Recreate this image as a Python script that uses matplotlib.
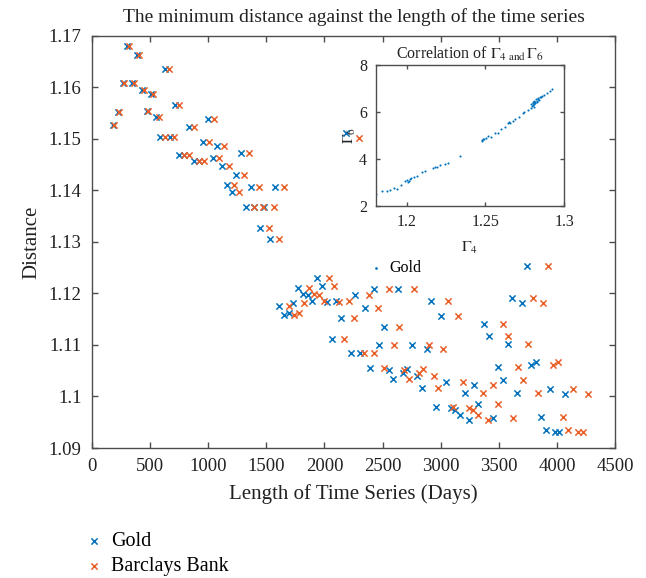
import numpy as np
import matplotlib
matplotlib.use('Agg')
import matplotlib.pyplot as plt

plt.rcParams['font.family'] = 'Liberation Serif'
plt.rcParams['mathtext.fontset'] = 'stix'

BLUE = '#0072BD'
ORANGE = '#EA5F26'
SPINE = '#4d4d4d'
TEXT = '#222222'

# minimum distance vs. series length (days)
gold_days = [304, 390, 631, 264, 347, 428, 505, 714, 224, 471, 551, 183, 998, 832,
             588, 669, 958, 1078, 1285, 751, 792, 878, 921, 1039, 1121, 1242, 1162,
             1205, 1368, 1575, 1325, 1394, 1480, 1448, 1532, 1612, 1655, 1695, 1732,
             1775, 1818, 1856, 1896, 1939, 1979, 2020, 2102, 2143, 2267, 2349, 2429,
             2636, 2920, 3003, 2513, 2063, 2470, 2756, 2880, 2226, 2306, 2390, 2556,
             2713, 2676, 2799, 2593, 2840, 3043, 3290, 3207, 2963, 3086, 3126, 3166,
             3246, 3321, 3740, 3614, 3697, 3370, 3413, 3577, 3493, 3780, 3820, 3534,
             3657, 3941, 4067, 3450, 3861, 3904, 3984, 4021, 2186]
gold_dist = [1.1681, 1.1663, 1.1636, 1.1608, 1.1609, 1.1595, 1.1586, 1.1566, 1.1552,
             1.1554, 1.1542, 1.1526, 1.1539, 1.1522, 1.1504, 1.1504, 1.1493, 1.1486,
             1.1473, 1.1469, 1.1469, 1.1456, 1.1456, 1.1462, 1.1447, 1.1430, 1.1411,
             1.1396, 1.1407, 1.1407, 1.1368, 1.1368, 1.1368, 1.1327, 1.1305, 1.1176,
             1.1158, 1.1162, 1.1181, 1.1210, 1.1199, 1.1196, 1.1186, 1.1230, 1.1214,
             1.1184, 1.1186, 1.1152, 1.1196, 1.1172, 1.1209, 1.1209, 1.1186, 1.1157,
             1.1135, 1.1112, 1.1100, 1.1100, 1.1093, 1.1084, 1.1084, 1.1056, 1.1052,
             1.1053, 1.1046, 1.1039, 1.1033, 1.1017, 1.1028, 1.1022, 1.1006, 1.0980,
             1.0978, 1.0973, 1.0965, 1.0955, 1.0986, 1.1254, 1.1192, 1.1181, 1.1141,
             1.1118, 1.1102, 1.1057, 1.1061, 1.1066, 1.1031, 1.1007, 1.1015, 1.1005,
             1.0958, 1.0960, 1.0935, 1.0932, 1.0932, 1.1511]

barclays_days = [321, 404, 663, 275, 361, 445, 528, 749, 232, 485, 574, 192, 1050, 878,
                 625, 708, 1007, 1136, 1351, 792, 832, 921, 964, 1093, 1179, 1305, 1222,
                 1265, 1437, 1652, 1394, 1474, 1566, 1523, 1609, 1695, 1738, 1779, 1822,
                 1865, 1910, 1953, 1996, 2037, 2080, 2123, 2209, 2252, 2381, 2463, 2553,
                 2768, 3066, 3152, 2639, 2166, 2596, 2897, 3023, 2338, 2424, 2510, 2682,
                 2851, 2811, 2940, 2725, 2980, 3195, 3453, 3367, 3106, 3241, 3281, 3321,
                 3410, 3496, 3926, 3797, 3883, 3539, 3582, 3754, 3668, 3969, 4010, 3711,
                 3840, 4141, 4268, 3625, 4055, 4098, 4184, 4222, 2297]
barclays_dist = [1.1681, 1.1663, 1.1636, 1.1608, 1.1609, 1.1595, 1.1586, 1.1566, 1.1552,
                 1.1554, 1.1542, 1.1526, 1.1539, 1.1522, 1.1504, 1.1504, 1.1493, 1.1486,
                 1.1473, 1.1469, 1.1469, 1.1456, 1.1456, 1.1462, 1.1447, 1.1430, 1.1411,
                 1.1396, 1.1407, 1.1407, 1.1368, 1.1368, 1.1368, 1.1327, 1.1305, 1.1176,
                 1.1158, 1.1162, 1.1181, 1.1210, 1.1199, 1.1196, 1.1186, 1.1230, 1.1214,
                 1.1184, 1.1186, 1.1152, 1.1196, 1.1172, 1.1209, 1.1209, 1.1186, 1.1157,
                 1.1135, 1.1112, 1.1100, 1.1100, 1.1093, 1.1084, 1.1084, 1.1056, 1.1052,
                 1.1053, 1.1046, 1.1039, 1.1033, 1.1017, 1.1028, 1.1022, 1.1006, 1.0980,
                 1.0978, 1.0973, 1.0965, 1.0955, 1.0986, 1.1254, 1.1192, 1.1181, 1.1141,
                 1.1118, 1.1102, 1.1057, 1.1061, 1.1066, 1.1031, 1.1007, 1.1015, 1.1005,
                 1.0958, 1.0960, 1.0935, 1.0932, 1.0932, 1.1502]

# Gamma_4 vs Gamma_6 for gold
gamma4 = [1.1800, 1.1844, 1.1872, 1.1893, 1.1919, 1.1936, 1.1962, 1.1987, 1.2004,
          1.2017, 1.2023, 1.2042, 1.2064, 1.2096, 1.2117, 1.2164, 1.2181, 1.2192,
          1.2213, 1.2245, 1.2260, 1.2337, 1.2476, 1.2491, 1.2502, 1.2517, 1.2538,
          1.2560, 1.2581, 1.2598, 1.2624, 1.2645, 1.2658, 1.2673, 1.2688, 1.2715,
          1.2737, 1.2747, 1.2769, 1.2790, 1.2808, 1.2816, 1.2827, 1.2837, 1.2854,
          1.2872, 1.2891, 1.2908, 1.2923, 1.2795, 1.2800, 1.2805, 1.2812, 1.2818,
          1.2822, 1.2830, 1.2835, 1.2842, 1.2848, 1.2860, 1.2800, 1.2790, 1.2810,
          1.2000, 1.2010, 1.2480, 1.2485, 1.2650]
gamma6 = [2.49, 2.61, 2.64, 2.67, 2.75, 2.72, 2.87, 3.05, 3.01, 3.15, 3.20, 3.24,
          3.28, 3.42, 3.48, 3.59, 3.65, 3.63, 3.72, 3.79, 3.82, 4.13, 4.77, 4.83,
          4.87, 4.97, 4.92, 5.09, 5.08, 5.26, 5.36, 5.51, 5.53, 5.60, 5.68, 5.79,
          5.93, 5.97, 6.07, 6.17, 6.33, 6.41, 6.47, 6.53, 6.61, 6.71, 6.81, 6.88,
          6.95, 6.25, 6.36, 6.30, 6.45, 6.35, 6.52, 6.40, 6.58, 6.50, 6.62, 6.65,
          6.42, 6.32, 6.22, 3.10, 3.05, 4.80, 4.85, 5.55]

x_ticks = [0, 500, 1000, 1500, 2000, 2500, 3000, 3500, 4000, 4500]
y_ticks = [1.09, 1.10, 1.11, 1.12, 1.13, 1.14, 1.15, 1.16, 1.17]
y_tick_labels = ['1.09', '1.1', '1.11', '1.12', '1.13', '1.14', '1.15', '1.16', '1.17']


def style_box(axis):
    for s in axis.spines.values():
        s.set_color(SPINE)
        s.set_linewidth(1)


fig = plt.figure(figsize=(6.46, 5.78), dpi=100)

ax = fig.add_axes([0.1424, 0.2249, 0.8096, 0.7133])
h1 = ax.scatter(gold_days, gold_dist, marker='x', s=20, linewidths=1.1,
                color=BLUE, label='Gold')
h2 = ax.scatter(barclays_days, barclays_dist, marker='x', s=20, linewidths=1.1,
                color=ORANGE, label='Barclays Bank')
ax.set_xlim(0, 4500)
ax.set_ylim(1.09, 1.17)
ax.set_xticks(x_ticks)
ax.set_yticks(y_ticks)
ax.set_yticklabels(y_tick_labels)
ax.tick_params(direction='in', top=True, right=True, length=4, width=1,
               color=SPINE, labelsize=13.5, labelcolor=TEXT, pad=7.5)
style_box(ax)
ax.set_xlabel('Length of Time Series (Days)', fontsize=15, color=TEXT, labelpad=6)
ax.set_ylabel('Distance', fontsize=15, color=TEXT, labelpad=5)
ax.set_title('The minimum distance against the length of the time series',
             fontsize=14, color=TEXT, pad=10)

fig.legend(handles=[h1, h2], loc='upper left', bbox_to_anchor=(0.124, 0.094),
           frameon=False, fontsize=14.5, handlelength=0.6, handletextpad=0.55,
           labelspacing=0.32, borderaxespad=0)

# inset: correlation of the two gamma statistics
axi = fig.add_axes([0.5813, 0.6441, 0.2918, 0.2440])
hi = axi.scatter(gamma4, gamma6, marker='.', s=9, color=BLUE, linewidths=0,
                 label='Gold')
axi.set_xlim(1.18, 1.3)
axi.set_ylim(2, 8)
axi.set_xticks([1.2, 1.25, 1.3])
axi.set_xticklabels(['1.2', '1.25', '1.3'])
axi.set_yticks([2, 4, 6, 8])
axi.tick_params(direction='in', top=True, right=True, length=3, width=1,
                color=SPINE, labelsize=11.5, labelcolor=TEXT, pad=6)
style_box(axi)
axi.set_title(r'Correlation of $\Gamma_{4\ \mathrm{and}}\,\Gamma_6$', fontsize=11.5,
              color=TEXT, pad=4)
axi.set_xlabel(r'$\Gamma_4$', fontsize=11.5, color=TEXT, labelpad=7)
axi.set_ylabel(r'$\Gamma_6$', fontsize=11.5, color=TEXT, labelpad=1)
axi.legend(handles=[hi], loc='center left', bbox_to_anchor=(0.565, 0.536),
           bbox_transform=fig.transFigure, frameon=False, fontsize=11.5,
           handlelength=0.6, handletextpad=0.5, markerscale=1.3, borderaxespad=0)

fig.savefig('out.png', dpi=100)
